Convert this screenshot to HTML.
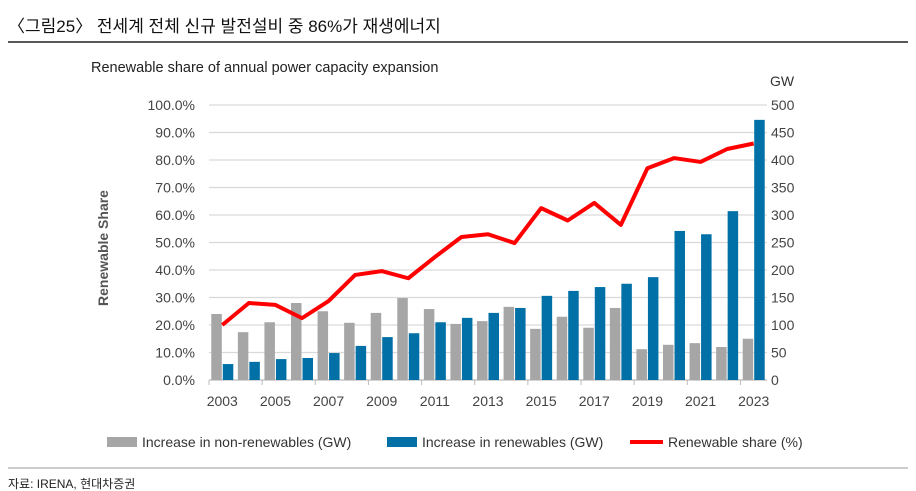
<!DOCTYPE html>
<html><head><meta charset="utf-8"><style>
body{margin:0;background:#fff;width:916px;height:491px;overflow:hidden;font-family:"Liberation Sans","Noto Sans CJK KR",sans-serif;}
</style></head><body>
<svg width="916" height="491" style="position:absolute;left:0;top:0">
<text x="8" y="32" font-size="17" fill="#111" font-family="Liberation Sans, Noto Sans CJK KR, sans-serif">〈그림25〉 전세계 전체 신규 발전설비 중 86%가 재생에너지</text>
<line x1="8" y1="42" x2="908" y2="42" stroke="#222" stroke-width="1.5"/>
<text x="91" y="72" font-size="14.5" fill="#222">Renewable share of annual power capacity expansion</text>
<text x="770" y="86" font-size="14" fill="#333">GW</text>
<text transform="translate(108,248) rotate(-90)" text-anchor="middle" font-size="14" font-weight="bold" fill="#555">Renewable Share</text>
<g id="chart"></g>
<g>
<rect x="107" y="437" width="30" height="10" fill="#a6a6a6"/>
<text x="142" y="447" font-size="14" fill="#333">Increase in non-renewables (GW)</text>
<rect x="387" y="437" width="30" height="10" fill="#0070a6"/>
<text x="422" y="447" font-size="14" fill="#333">Increase in renewables (GW)</text>
<line x1="630" y1="442" x2="663" y2="442" stroke="#f00" stroke-width="4"/>
<text x="668" y="447" font-size="14" fill="#333">Renewable share (%)</text>
</g>
<line x1="8" y1="468" x2="908" y2="468" stroke="#999" stroke-width="1"/>
<text x="8" y="488" font-size="12" fill="#222" font-family="Liberation Sans, Noto Sans CJK KR, sans-serif">자료: IRENA, 현대차증권</text>
</svg>
<script>
const years=[2003,2004,2005,2006,2007,2008,2009,2010,2011,2012,2013,2014,2015,2016,2017,2018,2019,2020,2021,2022,2023];
const nonRenewables=[120,87,105,140,125,104,122,149,129,102,107,133,93,115,95,131,56,64,67,60,75];
const renewables=[29,33,38,40,49,62,78,85,105,113,122,131,153,162,169,175,187,271,265,307,473];
const sharePct=[20,28,27.3,22.5,28.7,38.2,39.6,37,44.7,52,53,49.8,62.5,58,64.4,56.4,77,80.7,79.3,84,86];
const leftTicks=["0.0%","10.0%","20.0%","30.0%","40.0%","50.0%","60.0%","70.0%","80.0%","90.0%","100.0%"];
const rightTicks=[0,50,100,150,200,250,300,350,400,450,500];
const xLabels=[2003,2005,2007,2009,2011,2013,2015,2017,2019,2021,2023];

const NS="http://www.w3.org/2000/svg";
const g=document.getElementById('chart');
const x0=209,x1=767,yBase=380,yTop=105;
const step=(x1-x0)/years.length;
const cx=i=>x0+step*(i+0.5);
const yGW=v=>yBase-(v/500)*(yBase-yTop);
const yPct=v=>yBase-(v/100)*(yBase-yTop);
function el(t,a){const e=document.createElementNS(NS,t);for(const k in a)e.setAttribute(k,a[k]);g.appendChild(e);return e;}
leftTicks.forEach((t,i)=>{
  const y=yPct(i*10);
  const l=el('line',{x1:x0,x2:x1,y1:y,y2:y,stroke:i===0?'#bbb':'#d9d9d9','stroke-width':1.2});
  
  
  const tx=el('text',{x:195,y:y+5,'text-anchor':'end','font-size':14,fill:'#444'});tx.textContent=t;
  
  
});
rightTicks.forEach(v=>{
  const tx=el('text',{x:771,y:yGW(v)+5,'font-size':14,fill:'#444'});tx.textContent=v;
  
  
});
for(let i=0;i<=years.length;i+=2){
  const x=x0+step*i;
  const t=el('line',{x1:x,x2:x,y1:yBase,y2:yBase+5,stroke:'#bbb'});
  
  
}
years.forEach((yr,i)=>{
  const c=cx(i);
  const a=el('rect',{x:c-11,y:yGW(nonRenewables[i]),width:10.5,height:yBase-yGW(nonRenewables[i]),fill:'#a6a6a6'});
  
  
  const b=el('rect',{x:c+0.5,y:yGW(renewables[i]),width:10.5,height:yBase-yGW(renewables[i]),fill:'#0070a6'});
  
  
});
const pts=sharePct.map((v,i)=>cx(i)+','+yPct(v)).join(' ');
const pl=el('polyline',{points:pts,fill:'none',stroke:'#f00','stroke-width':4,'stroke-linejoin':'round'});


xLabels.forEach(yr=>{
  const i=years.indexOf(yr);
  const tx=el('text',{x:cx(i),y:406,'text-anchor':'middle','font-size':14,fill:'#444'});tx.textContent=yr;
  
  
});
</script>
</body></html>
